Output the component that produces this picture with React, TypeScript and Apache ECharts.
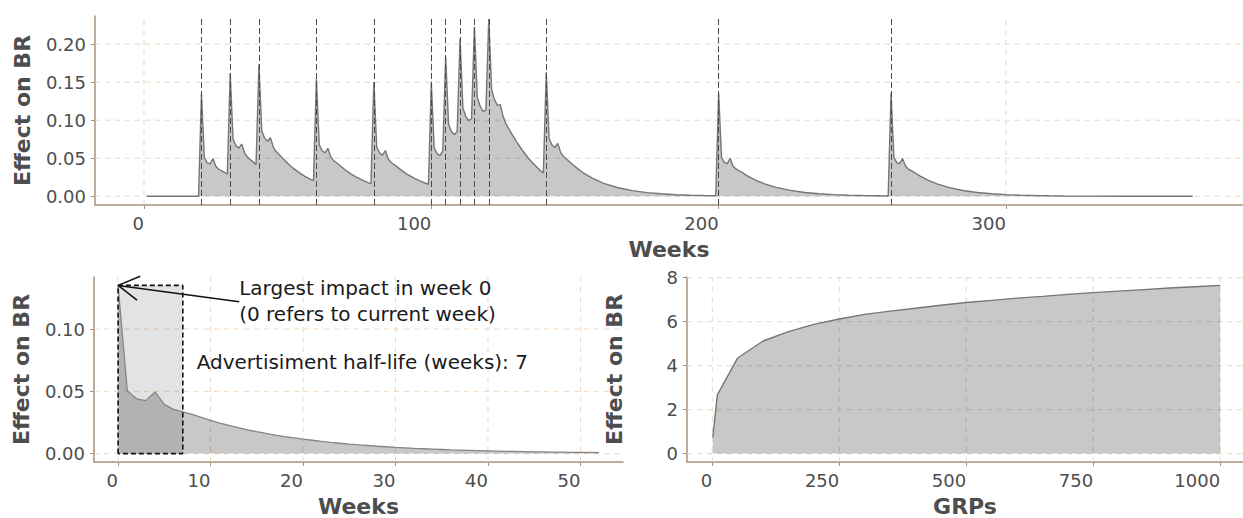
import React, { useEffect, useRef } from "react";
import * as echarts from "echarts";

// ---------- data ----------
const TOP_WEEKS = [
  1, 19,
  20, 21, 22, 23, 24, 25, 26, 27, 28, 29,
  30, 31, 32, 33, 34, 35, 36, 37, 38, 39,
  40, 41, 42, 43, 44, 45, 46, 47, 48, 50, 52, 54, 56, 58, 59,
  60, 61, 62, 63, 64, 65, 66, 67, 68, 70, 72, 74, 76, 78, 79,
  80, 81, 82, 83, 84, 85, 86, 87, 88, 90, 92, 94, 96, 98, 99,
  100, 101, 102, 103, 104,
  105, 106, 107, 108, 109,
  110, 111, 112, 113, 114,
  115, 116, 117, 118, 119,
  120, 121, 122, 123, 124, 125, 126, 127, 128, 130, 132, 134, 136, 138, 139,
  140, 141, 142, 143, 144, 145, 146, 147, 148, 150, 153, 156, 160, 165, 170, 175, 180, 185, 190, 195, 199,
  200, 201, 202, 203, 204, 205, 206, 207, 208, 210, 213, 216, 220, 225, 230, 235, 240, 245, 250, 255, 259,
  260, 261, 262, 263, 264, 265, 266, 267, 268, 270, 273, 276, 280, 285, 290, 295, 300, 305, 310, 315, 320, 330, 340, 350, 365,
];
const TOP_EFFECT = [
  0, 0,
  0.135, 0.0505, 0.044, 0.0425, 0.0495, 0.0395, 0.0355, 0.0335, 0.0315, 0.029,
  0.1617, 0.075, 0.0666, 0.0633, 0.0686, 0.0571, 0.0517, 0.0484, 0.0452, 0.0416,
  0.1733, 0.0857, 0.0764, 0.0723, 0.0769, 0.0647, 0.0587, 0.0549, 0.0511, 0.0433, 0.0366, 0.031, 0.0262, 0.0222, 0.0205,
  0.1538, 0.0678, 0.0598, 0.0571, 0.063, 0.0518, 0.0468, 0.044, 0.0411, 0.0348, 0.0294, 0.025, 0.0211, 0.0179, 0.0165,
  0.1502, 0.0646, 0.0568, 0.054, 0.0601, 0.0492, 0.0444, 0.0418, 0.039, 0.0331, 0.028, 0.0238, 0.0201, 0.0171, 0.0158,
  0.1492, 0.0636, 0.056, 0.0535, 0.0597,
  0.1838, 0.0946, 0.0852, 0.081, 0.085,
  0.2071, 0.116, 0.1051, 0.0995, 0.1019,
  0.2227, 0.1303, 0.1183, 0.1116, 0.1131,
  0.233, 0.1398, 0.127, 0.1195, 0.1204, 0.1047, 0.0952, 0.0885, 0.082, 0.0697, 0.0588, 0.049, 0.041, 0.0335, 0.0305,
  0.163, 0.076, 0.0675, 0.0641, 0.0695, 0.0578, 0.0523, 0.049, 0.0458, 0.039, 0.0305, 0.0238, 0.017, 0.0112, 0.0074, 0.0048, 0.0032, 0.002, 0.0013, 0.0009, 0.0007,
  0.1357, 0.0511, 0.0446, 0.043, 0.05, 0.0399, 0.0359, 0.0338, 0.0318, 0.0269, 0.021, 0.0163, 0.0117, 0.0077, 0.005, 0.0033, 0.0022, 0.0014, 0.0009, 0.0006, 0.0004,
  0.1354, 0.0508, 0.0443, 0.0428, 0.0498, 0.0397, 0.0357, 0.0337, 0.0316, 0.0268, 0.0209, 0.0163, 0.0116, 0.0076, 0.005, 0.0033, 0.0022, 0.0014, 0.0009, 0.0006, 0.0004, 0.0002, 0.0001, 0, 0,
];
const EVENT_WEEKS = [20, 30, 40, 60, 80, 100, 105, 110, 115, 120, 140, 200, 260];

const LAG_WEEKS = [
  0, 1, 2, 3, 4, 5, 6, 7, 8, 9, 10, 11, 12, 13, 14, 15, 16, 17, 18, 19, 20, 21, 22, 23, 24, 25, 26,
  27, 28, 29, 30, 31, 32, 33, 34, 35, 36, 37, 38, 39, 40, 41, 42, 43, 44, 45, 46, 47, 48, 49, 50, 51, 52,
];
const LAG_EFFECT = [
  0.135, 0.0505, 0.044, 0.0425, 0.0495, 0.0395, 0.0355, 0.0335, 0.0315, 0.029, 0.0267, 0.0245, 0.0226,
  0.0208, 0.0191, 0.0176, 0.0162, 0.0149, 0.0137, 0.0126, 0.0116, 0.0107, 0.0098, 0.009, 0.0083, 0.0076,
  0.007, 0.0065, 0.0059, 0.0055, 0.005, 0.0046, 0.0042, 0.0039, 0.0036, 0.0033, 0.003, 0.0028, 0.0026,
  0.0024, 0.0022, 0.002, 0.0018, 0.0017, 0.0016, 0.0014, 0.0013, 0.0012, 0.0011, 0.001, 0.0009, 0.0009, 0.0008,
];
const HALF_LIFE = 7;

const GRPS = [1, 10, 50, 100, 150, 200, 250, 300, 350, 400, 450, 500, 550, 600, 650, 700, 750, 800, 850, 900, 950, 1000];
const GRP_EFFECT = [0.74, 2.67, 4.35, 5.12, 5.55, 5.88, 6.12, 6.33, 6.48, 6.61, 6.75, 6.87, 6.97, 7.07, 7.15, 7.24, 7.32, 7.39, 7.46, 7.53, 7.59, 7.65];

const TOP_X_TICKS = [0, 100, 200, 300];
const TOP_Y_TICKS = [0, 0.05, 0.1, 0.15, 0.2];
const BL_X_TICKS = [0, 10, 20, 30, 40, 50];
const BL_Y_TICKS = [0, 0.05, 0.1];
const BR_X_TICKS = [0, 250, 500, 750, 1000];
const BR_Y_TICKS = [0, 2, 4, 6, 8];

const ANNOT_1 = "Largest impact in week 0";
const ANNOT_2 = "(0 refers to current week)";
const ANNOT_3 = "Advertisiment half-life (weeks): " + HALF_LIFE;

// ---------- styling ----------
const FONT = "DejaVu Sans";
const TXT = "#4d4d4d";
const AXIS_COL = "#a8927c";
const GRID_COL = "#ecd6c2";
const AREA_FILL = "rgba(0,0,0,0.215)";
const LINE_COL = "#767676";

const TOP_X = [-17.05, 382.5];
const TOP_Y = [-0.0115, 0.237];
const BL_X = [-2.6, 54.6];
const BL_Y = [-0.00675, 0.14175];
const BR_X = [-49.8, 1045];
const BR_Y = [-0.3825, 8.0325];

function gridLines(axisIndex: number, xt: number[], yt: number[], xr: number[], yr: number[]) {
  const base = {
    type: "line",
    xAxisIndex: axisIndex,
    yAxisIndex: axisIndex,
    symbol: "none",
    silent: true,
    z: 1,
    lineStyle: { color: GRID_COL, width: 1, type: [5, 5] },
  };
  const out: any[] = [];
  yt.forEach((v) => out.push({ ...base, data: [[xr[0], v], [xr[1], v]] }));
  xt.forEach((v) => out.push({ ...base, data: [[v, yr[0]], [v, yr[1]]] }));
  return out;
}

function xAxisCfg(gridIndex: number, range: number[], ticks: number[], name: string, fmt: (v: number) => string) {
  return {
    type: "value",
    gridIndex,
    min: range[0],
    max: range[1],
    name,
    nameLocation: "middle",
    nameGap: 33,
    nameTextStyle: { fontFamily: FONT, fontSize: 22, fontWeight: "bold", color: TXT },
    axisLine: { show: true, onZero: false, lineStyle: { color: AXIS_COL, width: 1.5 } },
    axisTick: { show: true, length: 4, customValues: ticks, lineStyle: { color: AXIS_COL } },
    axisLabel: { customValues: ticks, align: "right", margin: 9, fontFamily: FONT, fontSize: 18, color: TXT, formatter: fmt },
    splitLine: { show: false },
  };
}

function yAxisCfg(gridIndex: number, range: number[], ticks: number[], fmt: (v: number) => string) {
  return {
    type: "value",
    gridIndex,
    min: range[0],
    max: range[1],
    name: "Effect on BR",
    nameLocation: "middle",
    nameGap: 62,
    nameTextStyle: { fontFamily: FONT, fontSize: 22, fontWeight: "bold", color: TXT },
    axisLine: { show: true, onZero: false, lineStyle: { color: AXIS_COL, width: 1.5 } },
    axisTick: { show: true, length: 4, customValues: ticks, lineStyle: { color: AXIS_COL } },
    axisLabel: { customValues: ticks, margin: 9, fontFamily: FONT, fontSize: 18, color: TXT, formatter: fmt },
    splitLine: { show: false },
  };
}

const f2 = (v: number) => v.toFixed(2);
const f0 = (v: number) => String(Math.round(v));

export default function App() {
  const ref = useRef<HTMLDivElement>(null);

  useEffect(() => {
    if (!ref.current) return;
    const chart = echarts.init(ref.current, undefined, { renderer: "svg" });

    const topData = TOP_WEEKS.map((w, i) => [w, TOP_EFFECT[i]]);
    const lagData = LAG_WEEKS.map((w, i) => [w, LAG_EFFECT[i]]);
    const grpData = GRPS.map((g, i) => [g, GRP_EFFECT[i]]);
    const peak = LAG_EFFECT[0];

    const option: any = {
      animation: false,
      backgroundColor: "#ffffff",
      grid: [
        { left: 95, top: 16, width: 1148, height: 189 },
        { left: 94, top: 277, width: 529, height: 188 },
        { left: 687, top: 277, width: 556, height: 188 },
      ],
      xAxis: [
        xAxisCfg(0, TOP_X, TOP_X_TICKS, "Weeks", f0),
        xAxisCfg(1, BL_X, BL_X_TICKS, "Weeks", f0),
        xAxisCfg(2, BR_X, BR_X_TICKS, "GRPs", f0),
      ],
      yAxis: [
        yAxisCfg(0, TOP_Y, TOP_Y_TICKS, f2),
        yAxisCfg(1, BL_Y, BL_Y_TICKS, f2),
        yAxisCfg(2, BR_Y, BR_Y_TICKS, f0),
      ],
      series: [
        ...gridLines(0, TOP_X_TICKS, TOP_Y_TICKS, TOP_X, TOP_Y),
        ...gridLines(1, BL_X_TICKS, BL_Y_TICKS, BL_X, BL_Y),
        ...gridLines(2, BR_X_TICKS, BR_Y_TICKS, BR_X, BR_Y),
        {
          type: "line",
          xAxisIndex: 0,
          yAxisIndex: 0,
          data: topData,
          symbol: "none",
          z: 3,
          lineStyle: { color: LINE_COL, width: 1.4 },
          areaStyle: { color: AREA_FILL, opacity: 1 },
          markLine: {
            silent: true,
            symbol: ["none", "none"],
            label: { show: false },
            lineStyle: { color: "#4a4a4a", width: 1, type: [6, 3] },
            data: EVENT_WEEKS.map((w) => ({ xAxis: w })),
          },
        },
        {
          type: "line",
          xAxisIndex: 1,
          yAxisIndex: 1,
          data: [[0, peak], [HALF_LIFE, peak]],
          symbol: "none",
          z: 2,
          lineStyle: { width: 0, opacity: 0 },
          areaStyle: { color: "rgba(0,0,0,0.11)", opacity: 1 },
        },
        {
          type: "line",
          xAxisIndex: 1,
          yAxisIndex: 1,
          data: lagData,
          symbol: "none",
          z: 3,
          lineStyle: { color: "#858585", width: 1.3 },
          areaStyle: { color: AREA_FILL, opacity: 1 },
        },
        {
          type: "line",
          xAxisIndex: 1,
          yAxisIndex: 1,
          data: [[0, 0], [0, peak], [HALF_LIFE, peak], [HALF_LIFE, 0], [0, 0]],
          symbol: "none",
          z: 4,
          lineStyle: { color: "#111111", width: 1.6, type: [5, 3] },
        },
        {
          type: "line",
          xAxisIndex: 2,
          yAxisIndex: 2,
          data: grpData,
          symbol: "none",
          z: 3,
          lineStyle: { color: LINE_COL, width: 1.4 },
          areaStyle: { color: AREA_FILL, opacity: 1 },
        },
      ],
    };
    chart.setOption(option);

    // annotation (arrow + texts) anchored in data coordinates of the lower-left panel
    const tip = chart.convertToPixel({ gridIndex: 1 } as any, [0, peak]) as number[];
    const from = chart.convertToPixel({ gridIndex: 1 } as any, [13.1, 0.1219]) as number[];
    const t1 = chart.convertToPixel({ gridIndex: 1 } as any, [13.1, 0.1412]) as number[];
    const t2 = chart.convertToPixel({ gridIndex: 1 } as any, [13.1, 0.1202]) as number[];
    const t3 = chart.convertToPixel({ gridIndex: 1 } as any, [8.5, 0.0818]) as number[];
    const ang = Math.atan2(from[1] - tip[1], from[0] - tip[0]);
    const hl = 24;
    const a1 = ang - Math.PI / 6;
    const a2 = ang + Math.PI / 6;
    const stroke = { stroke: "#111111", lineWidth: 1.5 };
    const txtStyle = { fontFamily: FONT, fontSize: 20, fill: "#1a1a1a", verticalAlign: "top", align: "left" };
    chart.setOption({
      graphic: {
        elements: [
          { type: "line", shape: { x1: from[0], y1: from[1], x2: tip[0], y2: tip[1] }, style: stroke, z: 100 },
          { type: "line", shape: { x1: tip[0], y1: tip[1], x2: tip[0] + hl * Math.cos(a1), y2: tip[1] + hl * Math.sin(a1) }, style: stroke, z: 100 },
          { type: "line", shape: { x1: tip[0], y1: tip[1], x2: tip[0] + hl * Math.cos(a2), y2: tip[1] + hl * Math.sin(a2) }, style: stroke, z: 100 },
          { type: "text", x: t1[0], y: t1[1], style: { ...txtStyle, text: ANNOT_1 }, z: 100 },
          { type: "text", x: t2[0], y: t2[1], style: { ...txtStyle, text: ANNOT_2 }, z: 100 },
          { type: "text", x: t3[0], y: t3[1], style: { ...txtStyle, text: ANNOT_3 }, z: 100 },
        ],
      },
    });

    return () => chart.dispose();
  }, []);

  return (
    <div
      ref={ref}
      style={{ position: "absolute", left: 0, top: 0, width: 1243, height: 518, background: "#fff" }}
    />
  );
}
